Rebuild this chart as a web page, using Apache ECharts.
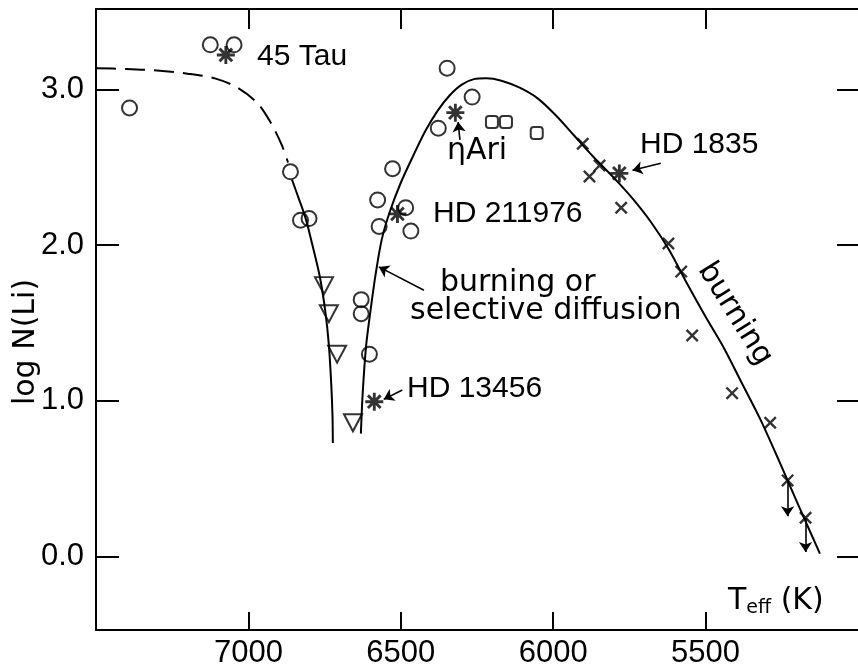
<!DOCTYPE html>
<html>
<head>
<meta charset="utf-8">
<script src="https://cdn.jsdelivr.net/npm/echarts@6.0.0/dist/echarts.min.js"></script>
<style>html,body{margin:0;padding:0;background:#fff;}#chart{width:858px;height:669px;}</style>
</head>
<body>
<div id="chart"></div>
<script>
// ---- data (Teff [K], log N(Li)) ----
const xTicks = [5500, 6000, 6500, 7000];
const yTicks = [0, 1, 2, 3];
const circles = [
  [7390, 2.88], [7125, 3.285], [7047, 3.285], [6862, 2.47], [6829, 2.16], [6801, 2.17],
  [6348, 3.135], [6266, 2.95], [6377, 2.75], [6527, 2.49], [6576, 2.29], [6484, 2.24],
  [6571, 2.12], [6467, 2.09], [6630, 1.65], [6630, 1.56], [6603, 1.30]
];
const squares = [[6201, 2.79], [6155, 2.79], [6054, 2.72]];
const triangles = [[6752, 1.74], [6736, 1.56], [6709, 1.30], [6657, 0.86]];
const asterisks = [[7074, 3.22], [6321, 2.85], [6511, 2.20], [5783, 2.46], [6587, 0.995]];
const crosses = [
  [5903, 2.65], [5848, 2.51], [5881, 2.44], [5777, 2.24], [5622, 2.01], [5580, 1.83],
  [5544, 1.42], [5413, 1.05], [5288, 0.86], [5231, 0.49], [5172, 0.25]
];
// upper limits: [Teff, from, to]
const upperLimits = [[5231, 0.49, 0.26], [5172, 0.25, 0.03]];
const dashedCurve = [
  [7500, 3.135], [7400, 3.13], [7300, 3.12], [7200, 3.10], [7110, 3.07], [7035, 3.01],
  [6970, 2.91], [6925, 2.78], [6890, 2.64], [6870, 2.53]
];
const leftBranch = [
  [6857, 2.42], [6835, 2.30], [6812, 2.17], [6790, 2.00], [6766, 1.80], [6748, 1.58],
  [6736, 1.36], [6728, 1.10], [6724, 0.90], [6723, 0.73]
];
const rightBranch = [
  [6631, 0.79], [6625, 1.05], [6614, 1.35], [6598, 1.60], [6582, 1.82], [6562, 2.04],
  [6535, 2.22], [6500, 2.40], [6460, 2.57], [6420, 2.73], [6380, 2.86], [6340, 2.96],
  [6300, 3.03], [6260, 3.065], [6220, 3.07], [6170, 3.055], [6110, 3.01], [6050, 2.94],
  [5990, 2.83], [5930, 2.70], [5870, 2.57], [5800, 2.43], [5740, 2.30], [5680, 2.15],
  [5620, 1.97], [5560, 1.75], [5500, 1.54], [5440, 1.34], [5380, 1.11], [5320, 0.88],
  [5260, 0.62], [5200, 0.35], [5150, 0.13], [5125, 0.02]
];
// annotation arrows: [fromT, fromY, toT, toY]
const pointerArrows = [
  [6495, 1.07, 6556, 1.01],   // HD 13456
  [5647, 2.525, 5740, 2.48],  // HD 1835
  [6424, 1.71, 6572, 1.86],   // burning or selective diffusion
  [6306, 2.675, 6312, 2.79]   // eta Ari
];

const SANS = 'Liberation Sans';
const TXT = 'DejaVu Sans';
const black = '#000';

const asteriskPath = 'path://M-1.6,-10L1.6,-10L1.6,10L-1.6,10Z M-10,-1.6L10,-1.6L10,1.6L-10,1.6Z ' +
  'M-8.2,-5.9L-5.9,-8.2L8.2,5.9L5.9,8.2Z M5.9,-8.2L8.2,-5.9L-5.9,8.2L-8.2,5.9Z';
const crossPath = 'path://M-11.5,-8.5L-8.5,-11.5L11.5,8.5L8.5,11.5Z M8.5,-11.5L11.5,-8.5L-8.5,11.5L-11.5,8.5Z';

const arrowLines = pointerArrows.map(a => [{coord: [a[0], a[1]]}, {coord: [a[2], a[3]]}])
  .concat(upperLimits.map(u => [{coord: [u[0], u[1]]}, {coord: [u[0], u[2]]}]));

const openStyle = {color: 'rgba(255,255,255,0)', borderColor: black, borderWidth: 2};

const chart = echarts.init(document.getElementById('chart'), null, {renderer: 'canvas'});
chart.setOption({
  animation: false,
  backgroundColor: '#fff',
  grid: {left: 96, top: 9, width: 768, height: 621},
  xAxis: [
    {
      type: 'value', min: 5000, max: 7500, interval: 500, inverse: true, position: 'bottom',
      axisLine: {show: true, onZero: false, lineStyle: {color: black, width: 2}},
      axisTick: {show: true, inside: true, length: 18, customValues: xTicks, lineStyle: {color: black, width: 2}},
      axisLabel: {show: true, customValues: xTicks, margin: 8, color: black, fontFamily: SANS, fontSize: 31,
        formatter: v => String(Math.round(v))},
      splitLine: {show: false}
    },
    {
      type: 'value', min: 5000, max: 7500, interval: 500, inverse: true, position: 'top',
      axisLine: {show: true, onZero: false, lineStyle: {color: black, width: 2}},
      axisTick: {show: true, inside: true, length: 20, customValues: xTicks, lineStyle: {color: black, width: 2}},
      axisLabel: {show: false},
      splitLine: {show: false}
    }
  ],
  yAxis: [
    {
      type: 'value', min: -0.47, max: 3.515, position: 'left',
      axisLine: {show: true, onZero: false, lineStyle: {color: black, width: 2}},
      axisTick: {show: true, inside: true, length: 23, customValues: yTicks, lineStyle: {color: black, width: 2}},
      axisLabel: {show: true, customValues: yTicks, margin: 12, color: black, fontFamily: SANS, fontSize: 31,
        formatter: v => Number(v).toFixed(1)},
      splitLine: {show: false}
    },
    {
      type: 'value', min: -0.47, max: 3.515, position: 'right',
      axisLine: {show: false},
      axisTick: {show: true, inside: true, length: 21, customValues: yTicks, lineStyle: {color: black, width: 2}},
      axisLabel: {show: false},
      splitLine: {show: false}
    }
  ],
  series: [
    {type: 'line', data: dashedCurve, showSymbol: false, smooth: 0.3, silent: true,
      lineStyle: {color: black, width: 2, type: [20, 9]}},
    {type: 'line', data: leftBranch, showSymbol: false, smooth: 0.3, silent: true,
      lineStyle: {color: black, width: 2}},
    {type: 'line', data: rightBranch, showSymbol: false, smooth: 0.3, silent: true,
      lineStyle: {color: black, width: 2},
      markLine: {silent: true, symbol: ['none', 'arrow'], symbolSize: 10, animation: false,
        label: {show: false}, lineStyle: {color: black, width: 1.6, type: 'solid'},
        emphasis: {disabled: true}, data: arrowLines}},
    {type: 'scatter', data: circles, symbol: 'circle', symbolSize: 15, silent: true, itemStyle: openStyle},
    {type: 'scatter', data: squares, symbol: 'roundRect', symbolSize: 12, silent: true, itemStyle: openStyle},
    {type: 'scatter', data: triangles, symbol: 'triangle', symbolRotate: 180, symbolSize: [18, 17], silent: true, itemStyle: openStyle},
    {type: 'scatter', data: crosses, symbol: crossPath, symbolSize: 13, silent: true, itemStyle: {color: black}},
    {type: 'scatter', data: asterisks, symbol: asteriskPath, symbolSize: 18, silent: true, itemStyle: {color: black}}
  ],
  graphic: [
    {type: 'text', x: 257, y: 57, style: {text: '45 Tau', font: '30px "' + SANS + '"', fill: black, align: 'left', verticalAlign: 'middle', textAlign: 'left', textVerticalAlign: 'middle'}},
    {type: 'text', x: 447, y: 151, style: {text: 'ηAri', font: '30px "' + TXT + '"', fill: black, align: 'left', verticalAlign: 'middle', textAlign: 'left', textVerticalAlign: 'middle'}},
    {type: 'text', x: 433, y: 214, style: {text: 'HD 211976', font: '30px "' + SANS + '"', fill: black, align: 'left', verticalAlign: 'middle', textAlign: 'left', textVerticalAlign: 'middle'}},
    {type: 'text', x: 640, y: 145, style: {text: 'HD 1835', font: '30px "' + SANS + '"', fill: black, align: 'left', verticalAlign: 'middle', textAlign: 'left', textVerticalAlign: 'middle'}},
    {type: 'text', x: 407, y: 389, style: {text: 'HD 13456', font: '30px "' + SANS + '"', fill: black, align: 'left', verticalAlign: 'middle', textAlign: 'left', textVerticalAlign: 'middle'}},
    {type: 'text', x: 440, y: 283, style: {text: 'burning or', font: '30px "' + TXT + '"', fill: black, align: 'left', verticalAlign: 'middle', textAlign: 'left', textVerticalAlign: 'middle'}},
    {type: 'text', x: 410, y: 311, style: {text: 'selective diffusion', font: '30px "' + TXT + '"', fill: black, align: 'left', verticalAlign: 'middle', textAlign: 'left', textVerticalAlign: 'middle'}},
    {type: 'text', x: 735, y: 314, rotation: -58 * Math.PI / 180, style: {text: 'burning', font: '30px "' + TXT + '"', fill: black, align: 'center', verticalAlign: 'middle', textAlign: 'center', textVerticalAlign: 'middle'}},
    {type: 'text', x: 26, y: 342, rotation: Math.PI / 2, style: {text: 'log N(Li)', font: '30px "' + TXT + '"', fill: black, align: 'center', verticalAlign: 'middle', textAlign: 'center', textVerticalAlign: 'middle'}},
    {type: 'text', x: 728, y: 601, style: {
      text: '{t|T}{s|eff}{t| (K)}', align: 'left', verticalAlign: 'middle', textAlign: 'left', textVerticalAlign: 'middle',
      rich: {
        t: {fontFamily: TXT, fontSize: 30, fill: black, color: black, lineHeight: 34},
        s: {fontFamily: TXT, fontSize: 19, fill: black, color: black, lineHeight: 34, padding: [14, 0, 0, 0]}
      }}}
  ]
});
</script>
</body>
</html>
